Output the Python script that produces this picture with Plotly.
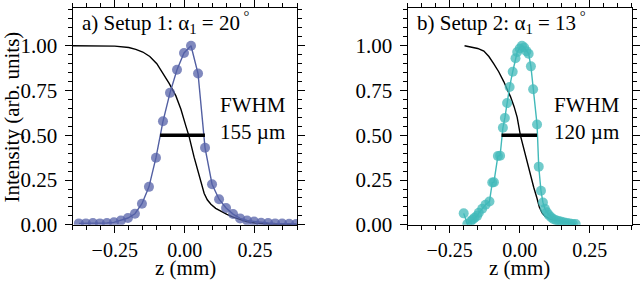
import plotly.graph_objects as go

# ---------------- data ----------------
# Panel a) Setup 1 measured profile
a_z = [-0.378, -0.353, -0.328, -0.303, -0.278, -0.253, -0.228, -0.203, -0.178, -0.153,
       -0.128, -0.103, -0.078, -0.053, -0.028, -0.003, 0.022, 0.047, 0.072, 0.097,
       0.122, 0.147, 0.172, 0.197, 0.222, 0.247, 0.272, 0.297, 0.322, 0.347, 0.372, 0.397]
a_int = [0.008, 0.008, 0.010, 0.008, 0.010, 0.014, 0.024, 0.038, 0.062, 0.118,
         0.212, 0.375, 0.578, 0.737, 0.866, 0.960, 1.000, 0.845, 0.430, 0.227,
         0.143, 0.094, 0.060, 0.036, 0.024, 0.018, 0.012, 0.010, 0.008, 0.007, 0.006, 0.005]
# Panel a) black edge curve
a_edge_z = [-0.40, -0.30, -0.25, -0.20, -0.175, -0.15, -0.125, -0.10, -0.075, -0.056,
            -0.032, -0.014, 0.004, 0.015, 0.033, 0.051, 0.060, 0.069, 0.080, 0.093,
            0.110, 0.129, 0.150, 0.170, 0.190, 0.220, 0.250, 0.300, 0.400]
a_edge = [1.000, 1.000, 0.998, 0.990, 0.980, 0.965, 0.940, 0.900, 0.840, 0.790,
          0.720, 0.645, 0.550, 0.494, 0.378, 0.270, 0.220, 0.175, 0.140, 0.115,
          0.092, 0.074, 0.058, 0.044, 0.032, 0.018, 0.010, 0.005, 0.002]

# Panel b) Setup 2 measured profile
b_z = [-0.200, -0.187, -0.175, -0.168, -0.161, -0.152, -0.146, -0.134, -0.122, -0.108,
       -0.098, -0.092, -0.078, -0.070, -0.060, -0.053, -0.045, -0.036, -0.025, -0.015,
       -0.009, 0.000, 0.008, 0.016, 0.024, 0.032, 0.040, 0.048, 0.062, 0.068,
       0.076, 0.083, 0.090, 0.097, 0.104, 0.112, 0.120, 0.130, 0.140, 0.150,
       0.160, 0.170, 0.180, 0.190, 0.200]
b_int = [0.064, 0.005, 0.020, 0.030, 0.040, 0.050, 0.067, 0.090, 0.112, 0.130,
         0.236, 0.238, 0.384, 0.386, 0.542, 0.597, 0.680, 0.770, 0.855, 0.930,
         0.965, 0.985, 1.000, 0.990, 0.970, 0.955, 0.885, 0.757, 0.560, 0.325,
         0.190, 0.125, 0.090, 0.070, 0.055, 0.042, 0.033, 0.026, 0.021, 0.017,
         0.013, 0.010, 0.008, 0.005, 0.004]
# Panel b) black edge curve
b_edge_z = [-0.197, -0.176, -0.150, -0.128, -0.110, -0.093, -0.075, -0.057, -0.045, -0.033,
            -0.020, -0.009, 0.0025, 0.020, 0.038, 0.050, 0.062, 0.070, 0.080, 0.090,
            0.109, 0.130, 0.157, 0.180, 0.200]
b_edge = [1.000, 0.995, 0.985, 0.970, 0.940, 0.900, 0.855, 0.800, 0.760, 0.716,
          0.660, 0.600, 0.500, 0.390, 0.290, 0.210, 0.147, 0.100, 0.067, 0.048,
          0.032, 0.024, 0.018, 0.010, 0.006]

# FWHM bars (z start, z end) at half maximum
a_fwhm = [-0.0885, 0.0716]
b_fwhm = [-0.065, 0.062]
half_max = 0.5

titles = ["a) Setup 1: α<sub>1</sub> = 20<sup> °</sup>", "b) Setup 2: α<sub>1</sub> = 13<sup> °</sup>"]
fwhm_labels = ["FWHM<br>155 µm", "FWHM<br>120 µm"]
x_ticks = [-0.25, 0.0, 0.25]
y_ticks = [0.0, 0.25, 0.5, 0.75, 1.0]

# ---------------- styling ----------------
FONT = "Liberation Serif, Times New Roman, serif"
FS = 21
TFS = 20
col_a = "rgba(82,95,162,1)"
col_a_m = "rgba(85,98,168,0.75)"
col_b = "rgba(65,185,185,1)"
col_b_m = "rgba(65,185,185,0.75)"

W, H = 640, 291
fig = go.Figure()

def add_panel(xa, ya, z, inten, ez, ev, fw, col, colm):
    fig.add_trace(go.Scatter(x=ez, y=ev, mode="lines", line=dict(color="black", width=1.4),
                             xaxis=xa, yaxis=ya, showlegend=False))
    fig.add_trace(go.Scatter(x=z, y=inten, mode="lines+markers",
                             line=dict(color=col, width=1.4),
                             marker=dict(color=colm, size=10, line=dict(width=0)),
                             xaxis=xa, yaxis=ya, showlegend=False))
    fig.add_trace(go.Scatter(x=fw, y=[half_max, half_max], mode="lines",
                             line=dict(color="black", width=3.5),
                             xaxis=xa, yaxis=ya, showlegend=False))

add_panel("x", "y", a_z, a_int, a_edge_z, a_edge, a_fwhm, col_a, col_a_m)
add_panel("x2", "y2", b_z, b_int, b_edge_z, b_edge, b_fwhm, col_b, col_b_m)

def px_x(p):
    return p / W

def px_y(p):
    return 1 - p / H

xcommon = dict(range=[-0.4, 0.4], tickvals=x_ticks, tickformat=".2f",
               showline=True, linecolor="black", linewidth=1.3, mirror="allticks",
               ticks="outside", ticklen=7, tickwidth=1.2, tickcolor="black",
               minor=dict(dtick=0.05, tick0=0, ticks="outside", ticklen=4, tickwidth=1, tickcolor="black"),
               showgrid=False, zeroline=False,
               tickfont=dict(family=FONT, size=TFS, color="black"))
ycommon = dict(range=[0, 1.21], tickvals=y_ticks, tickformat=".2f",
               showline=True, linecolor="black", linewidth=1.3, mirror="allticks",
               ticks="outside", ticklen=7, tickwidth=1.2, tickcolor="black",
               ticklabelstandoff=3,
               minor=dict(dtick=0.05, tick0=0, ticks="outside", ticklen=4, tickwidth=1, tickcolor="black"),
               showgrid=False, zeroline=False,
               tickfont=dict(family=FONT, size=FS, color="black"))

ydom = [px_y(234.3), px_y(7.5)]
fig.update_layout(
    width=W, height=H,
    margin=dict(l=0, r=0, t=0, b=0),
    paper_bgcolor="white", plot_bgcolor="white",
    font=dict(family=FONT, size=FS, color="black"),
    xaxis=dict(domain=[px_x(72.7), px_x(297)], anchor="y", **xcommon),
    yaxis=dict(domain=ydom, anchor="x", **ycommon),
    xaxis2=dict(domain=[px_x(407.7), px_x(631.7)], anchor="y2", **xcommon),
    yaxis2=dict(domain=ydom, anchor="x2", **ycommon),
)

ann = []
# panel titles
ann.append(dict(text=titles[0], x=px_x(80), y=px_y(23), xref="paper", yref="paper",
                xanchor="left", yanchor="middle", showarrow=False, font=dict(family=FONT, size=FS)))
ann.append(dict(text=titles[1], x=px_x(415), y=px_y(23), xref="paper", yref="paper",
                xanchor="left", yanchor="middle", showarrow=False, font=dict(family=FONT, size=FS)))
# FWHM labels
ann.append(dict(text=fwhm_labels[0], x=px_x(253), y=px_y(123), xref="paper", yref="paper",
                xanchor="center", yanchor="middle", showarrow=False, align="center",
                font=dict(family=FONT, size=FS)))
ann.append(dict(text=fwhm_labels[1], x=px_x(587), y=px_y(123), xref="paper", yref="paper",
                xanchor="center", yanchor="middle", showarrow=False, align="center",
                font=dict(family=FONT, size=FS)))
# axis titles
ann.append(dict(text="Intensity (arb. units)", x=px_x(12), y=px_y(122), xref="paper", yref="paper",
                xanchor="center", yanchor="middle", textangle=-90, showarrow=False,
                font=dict(family=FONT, size=FS)))
ann.append(dict(text="z (mm)", x=px_x(185.7), y=px_y(279), xref="paper", yref="paper",
                xanchor="center", yanchor="middle", showarrow=False, font=dict(family=FONT, size=FS)))
ann.append(dict(text="z (mm)", x=px_x(519.3), y=px_y(279), xref="paper", yref="paper",
                xanchor="center", yanchor="middle", showarrow=False, font=dict(family=FONT, size=FS)))
fig.update_layout(annotations=ann)

post = ("document.documentElement.style.margin='0';"
        "document.documentElement.style.overflow='hidden';"
        "document.body.style.margin='0';"
        "document.body.style.overflow='hidden';"
        "document.body.style.height='291px';")
fig.write_html("out.html", config={"displayModeBar": False}, post_script=post)
